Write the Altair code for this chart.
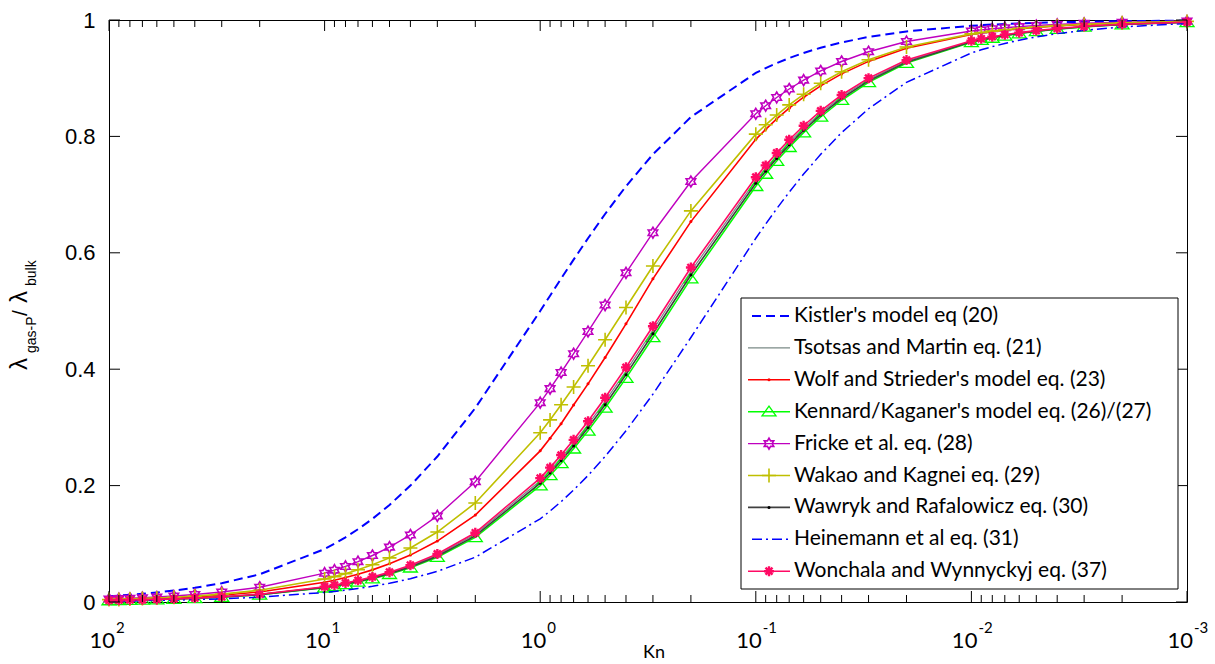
import altair as alt
import pandas as pd

# ---------------- data ----------------
KN = [100, 90, 80, 70, 60, 50, 40, 30, 20,
      10, 9, 8, 7, 6, 5, 4, 3, 2,
      1, 0.9, 0.8, 0.7, 0.6, 0.5, 0.4, 0.3, 0.2,
      0.1, 0.09, 0.08, 0.07, 0.06, 0.05, 0.04, 0.03, 0.02,
      0.01, 0.009, 0.008, 0.007, 0.006, 0.005, 0.004, 0.003, 0.002, 0.001]

KISTLER = [0.0099, 0.0110, 0.0123, 0.0141, 0.0164, 0.0196, 0.0244, 0.0323, 0.0476,
           0.0909, 0.1000, 0.1111, 0.1250, 0.1429, 0.1667, 0.2000, 0.2500, 0.3333,
           0.5000, 0.5263, 0.5556, 0.5882, 0.6250, 0.6667, 0.7143, 0.7692, 0.8333,
           0.9091, 0.9174, 0.9259, 0.9346, 0.9434, 0.9524, 0.9615, 0.9709, 0.9804,
           0.9901, 0.9911, 0.9921, 0.9930, 0.9940, 0.9950, 0.9960, 0.9970, 0.9980, 0.9990]

TSOTSAS = [0.0026, 0.0029, 0.0033, 0.0037, 0.0044, 0.0052, 0.0065, 0.0087, 0.0130,
           0.0256, 0.0284, 0.0318, 0.0362, 0.0420, 0.0500, 0.0617, 0.0806, 0.1163,
           0.2083, 0.2262, 0.2475, 0.2732, 0.3049, 0.3448, 0.3968, 0.4673, 0.5682,
           0.7246, 0.7452, 0.7669, 0.7899, 0.8143, 0.8403, 0.8681, 0.8977, 0.9294,
           0.9634, 0.9670, 0.9705, 0.9741, 0.9777, 0.9814, 0.9850, 0.9887, 0.9924, 0.9962]

WOLF = [0.0035, 0.0039, 0.0044, 0.0050, 0.0058, 0.0070, 0.0087, 0.0116, 0.0172,
        0.0339, 0.0375, 0.0420, 0.0477, 0.0552, 0.0656, 0.0806, 0.1047, 0.1493,
        0.2597, 0.2812, 0.3064, 0.3386, 0.3748, 0.4202, 0.4780, 0.5552, 0.6536,
        0.7949, 0.8121, 0.8300, 0.8485, 0.8673, 0.8869, 0.9074, 0.9289, 0.9515,
        0.9751, 0.9776, 0.9800, 0.9825, 0.9849, 0.9874, 0.9899, 0.9924, 0.9949, 0.9975]

KENNARD = [0.0025, 0.0028, 0.0031, 0.0036, 0.0041, 0.0050, 0.0062, 0.0083, 0.0123,
           0.0244, 0.0270, 0.0303, 0.0345, 0.0400, 0.0476, 0.0588, 0.0769, 0.1111,
           0.2000, 0.2174, 0.2381, 0.2632, 0.2941, 0.3333, 0.3846, 0.4545, 0.5556,
           0.7143, 0.7353, 0.7576, 0.7813, 0.8065, 0.8333, 0.8621, 0.8929, 0.9259,
           0.9615, 0.9653, 0.9690, 0.9728, 0.9766, 0.9804, 0.9843, 0.9881, 0.9921, 0.9960]

FRICKE = [0.0052, 0.0058, 0.0065, 0.0074, 0.0086, 0.0103, 0.0129, 0.0171, 0.0254,
          0.0495, 0.0547, 0.0611, 0.0693, 0.0799, 0.0943, 0.1152, 0.1479, 0.2066,
          0.3425, 0.3666, 0.3943, 0.4266, 0.4647, 0.5102, 0.5656, 0.6345, 0.7225,
          0.8389, 0.8527, 0.8669, 0.8815, 0.8967, 0.9124, 0.9287, 0.9455, 0.9630,
          0.9812, 0.9830, 0.9849, 0.9867, 0.9886, 0.9905, 0.9924, 0.9943, 0.9962, 0.9981]

WAKAO = [0.0041, 0.0045, 0.0051, 0.0058, 0.0068, 0.0081, 0.0101, 0.0135, 0.0201,
         0.0394, 0.0436, 0.0487, 0.0553, 0.0639, 0.0758, 0.0929, 0.1202, 0.1701,
         0.2907, 0.3129, 0.3388, 0.3693, 0.4058, 0.4505, 0.5061, 0.5774, 0.6720,
         0.8039, 0.8199, 0.8367, 0.8541, 0.8723, 0.8913, 0.9111, 0.9318, 0.9535,
         0.9762, 0.9785, 0.9809, 0.9832, 0.9856, 0.9880, 0.9903, 0.9927, 0.9951, 0.9976]

WAWRYK = [0.0026, 0.0028, 0.0032, 0.0036, 0.0043, 0.0051, 0.0064, 0.0085, 0.0127,
          0.0250, 0.0277, 0.0311, 0.0353, 0.0410, 0.0488, 0.0602, 0.0787, 0.1136,
          0.2041, 0.2217, 0.2427, 0.2681, 0.2994, 0.3390, 0.3906, 0.4608, 0.5618,
          0.7194, 0.7402, 0.7622, 0.7855, 0.8104, 0.8368, 0.8651, 0.8953, 0.9276,
          0.9625, 0.9661, 0.9697, 0.9734, 0.9771, 0.9809, 0.9846, 0.9884, 0.9923, 0.9961]

HEINEMANN = [0.0017, 0.0018, 0.0021, 0.0024, 0.0028, 0.0033, 0.0041, 0.0055, 0.0083,
             0.0164, 0.0182, 0.0204, 0.0233, 0.0270, 0.0323, 0.0400, 0.0526, 0.0769,
             0.1429, 0.1563, 0.1724, 0.1923, 0.2174, 0.2500, 0.2941, 0.3571, 0.4545,
             0.6250, 0.6494, 0.6757, 0.7042, 0.7353, 0.7692, 0.8065, 0.8475, 0.8929,
             0.9434, 0.9488, 0.9542, 0.9597, 0.9653, 0.9709, 0.9766, 0.9823, 0.9881, 0.9940]

WONCHALA = [0.0027, 0.0030, 0.0034, 0.0038, 0.0045, 0.0054, 0.0067, 0.0089, 0.0133,
            0.0263, 0.0292, 0.0327, 0.0372, 0.0431, 0.0513, 0.0633, 0.0826, 0.1190,
            0.2128, 0.2309, 0.2525, 0.2786, 0.3106, 0.3509, 0.4032, 0.4739, 0.5747,
            0.7299, 0.7502, 0.7716, 0.7943, 0.8183, 0.8439, 0.8711, 0.9001, 0.9311,
            0.9643, 0.9678, 0.9713, 0.9748, 0.9783, 0.9818, 0.9854, 0.9890, 0.9927, 0.9963]

NAMES = ["Kistler's model eq (20)",
         "Tsotsas and Martin eq. (21)",
         "Wolf and Strieder's model eq. (23)",
         "Kennard/Kaganer's model eq. (26)/(27)",
         "Fricke et al. eq. (28)",
         "Wakao and Kagnei eq. (29)",
         "Wawryk and Rafalowicz eq. (30)",
         "Heinemann et al eq. (31)",
         "Wonchala and Wynnyckyj eq. (37)"]
VALUES = [KISTLER, TSOTSAS, WOLF, KENNARD, FRICKE, WAKAO, WAWRYK, HEINEMANN, WONCHALA]

Y_TICKS = [0, 0.2, 0.4, 0.6, 0.8, 1]
X_MAJOR = [100, 10, 1, 0.1, 0.01, 0.001]
X_EXP = ["2", "1", "0", "-1", "-2", "-3"]
X_MINOR = [m * d for d in [10, 1, 0.1, 0.01, 0.001] for m in range(2, 10)]

# ---------------- styles ----------------
HEXAGRAM = ("M0,-1L0.2887,-0.5L0.866,-0.5L0.5774,0L0.866,0.5L0.2887,0.5L0,1"
            "L-0.2887,0.5L-0.866,0.5L-0.5774,0L-0.866,-0.5L-0.2887,-0.5Z")
TRIANGLE = "M0,-0.8L1,0.6L-1,0.6Z"
PLUS = "M-1,0L1,0M0,-1L0,1"
ASTER = "M-1,0L1,0M0,-1L0,1M-0.7,-0.7L0.7,0.7M-0.7,0.7L0.7,-0.7"

STYLES = [
    dict(color="#0000FF", width=2.0, dash=[9, 5], marker=None),
    dict(color="#7A8A86", width=1.2, dash=None, marker=None),
    dict(color="#FF0000", width=1.6, dash=None,
         marker=dict(shape="circle", filled=True, size=9, color="#FF0000", sw=0)),
    dict(color="#00FF00", width=1.5, dash=None,
         marker=dict(shape=TRIANGLE, filled=False, size=196, color="#00FF00", sw=1.3)),
    dict(color="#BF00BF", width=1.4, dash=None,
         marker=dict(shape=HEXAGRAM, filled=False, size=120, color="#BF00BF", sw=1.6)),
    dict(color="#BFBF00", width=1.6, dash=None,
         marker=dict(shape=PLUS, filled=False, size=196, color="#BFBF00", sw=1.6)),
    dict(color="#404040", width=1.6, dash=None,
         marker=dict(shape="circle", filled=True, size=9, color="#000000", sw=0)),
    dict(color="#0000FF", width=1.5, dash=[10, 4, 2, 4], marker=None),
    dict(color="#FF0A64", width=1.6, dash=None,
         marker=dict(shape=ASTER, filled=False, size=100, color="#FF0A64", sw=2.4)),
]

W, H = 1078, 582
xsc = alt.Scale(type="log", domain=[0.001, 100], reverse=True, nice=False)
ysc = alt.Scale(domain=[0, 1], nice=False, zero=False)
yaxis = alt.Axis(values=Y_TICKS, format="~g", ticks=False, grid=False, domain=False,
                 labelFont="Liberation Sans", labelFontSize=22, labelPadding=14,
                 labelColor="black", title=None)


def X(field):
    return alt.X(f"{field}:Q", scale=xsc, axis=None)


def Y(field):
    return alt.Y(f"{field}:Q", scale=ysc, axis=yaxis)


DUMMY = pd.DataFrame({"d": [0]})
layers = []

# data series
for name, vals, st in zip(NAMES, VALUES, STYLES):
    df = pd.DataFrame({"Kn": KN, "val": vals})
    lk = dict(color=st["color"], strokeWidth=st["width"], clip=False)
    if st["dash"]:
        lk["strokeDash"] = st["dash"]
    layers.append(alt.Chart(df).mark_line(**lk).encode(x=X("Kn"), y=Y("val")))
    m = st["marker"]
    if m:
        pk = dict(shape=m["shape"], filled=m["filled"], size=m["size"], opacity=1, clip=False)
        if m["filled"]:
            pk["fill"] = m["color"]
            pk["strokeWidth"] = 0
        else:
            pk["stroke"] = m["color"]
            pk["strokeWidth"] = m["sw"]
        layers.append(alt.Chart(df).mark_point(**pk).encode(x=X("Kn"), y=Y("val")))

# inward ticks
ydf = pd.DataFrame({"v": Y_TICKS})
layers.append(alt.Chart(ydf).mark_rule(color="black", strokeWidth=1).encode(
    y=Y("v"), x=alt.value(0), x2=alt.value(11)))
layers.append(alt.Chart(ydf).mark_rule(color="black", strokeWidth=1).encode(
    y=Y("v"), x=alt.value(W - 11), x2=alt.value(W)))
xmaj = pd.DataFrame({"k": X_MAJOR, "e": X_EXP})
xmin = pd.DataFrame({"k": X_MINOR})
for df_t, L in [(xmaj, 11), (xmin, 7)]:
    layers.append(alt.Chart(df_t).mark_rule(color="black", strokeWidth=1).encode(
        x=X("k"), y=alt.value(H), y2=alt.value(H - L)))
    layers.append(alt.Chart(df_t).mark_rule(color="black", strokeWidth=1).encode(
        x=X("k"), y=alt.value(0), y2=alt.value(L)))

# x tick labels 10^n
layers.append(alt.Chart(xmaj).mark_text(
    text="10", align="right", baseline="alphabetic", dx=6, font="Lato",
    fontSize=22, color="black").encode(x=X("k"), y=alt.value(H + 46)))
layers.append(alt.Chart(xmaj).mark_text(
    align="left", baseline="alphabetic", dx=7, font="Lato", fontSize=15,
    color="black").encode(x=X("k"), y=alt.value(H + 31), text="e:N"))

# x title
layers.append(alt.Chart(DUMMY).mark_text(
    text="Kn", align="center", baseline="alphabetic", font="Lato", fontSize=18,
    color="black").encode(x=alt.value(W / 2 + 6), y=alt.value(H + 56)))

# y title (rotated, with subscripts)
TITLE_PARTS = [("λ", 24, -82, 350), ("gas-P", 14, -73, 333), ("/", 21, -82, 296),
               ("λ", 24, -82, 283), ("bulk", 14, -73, 266)]
for txt, fs, bx, ys in TITLE_PARTS:
    layers.append(alt.Chart(DUMMY).mark_text(
        text=txt, angle=270, align="left", baseline="alphabetic",
        font="Liberation Sans", fontSize=fs, color="black").encode(
        x=alt.value(bx), y=alt.value(ys)))

# legend
LX0, LX1, LY0, LY1 = 632, 1069, 278, 569
layers.append(alt.Chart(DUMMY).mark_rect(fill="white", stroke="black", strokeWidth=1).encode(
    x=alt.value(LX0), x2=alt.value(LX1), y=alt.value(LY0), y2=alt.value(LY1)))
for i, (name, st) in enumerate(zip(NAMES, STYLES)):
    py = 296 + 31.9 * i
    rk = dict(color=st["color"], strokeWidth=st["width"])
    if st["dash"]:
        rk["strokeDash"] = st["dash"]
    x0 = 643 if st["dash"] else 639
    layers.append(alt.Chart(DUMMY).mark_rule(**rk).encode(
        x=alt.value(x0), x2=alt.value(681), y=alt.value(py)))
    m = st["marker"]
    if m:
        pk = dict(shape=m["shape"], filled=m["filled"], size=m["size"], opacity=1)
        if m["filled"]:
            pk["fill"] = m["color"]
            pk["strokeWidth"] = 0
        else:
            pk["stroke"] = m["color"]
            pk["strokeWidth"] = m["sw"]
        layers.append(alt.Chart(DUMMY).mark_point(**pk).encode(
            x=alt.value(660), y=alt.value(py)))
    layers.append(alt.Chart(DUMMY).mark_text(
        text=name, align="left", baseline="middle", font="Lato", fontSize=21,
        color="black").encode(x=alt.value(685), y=alt.value(py)))

chart = alt.layer(*layers).properties(
    width=W, height=H,
    autosize=alt.AutoSizeParams(type="none"),
    padding={"left": 109, "top": 20, "right": 28, "bottom": 62},
    background="white",
).configure_view(stroke="black", strokeWidth=1)

chart.save("out.html", embed_options={"renderer": "svg", "actions": False})
